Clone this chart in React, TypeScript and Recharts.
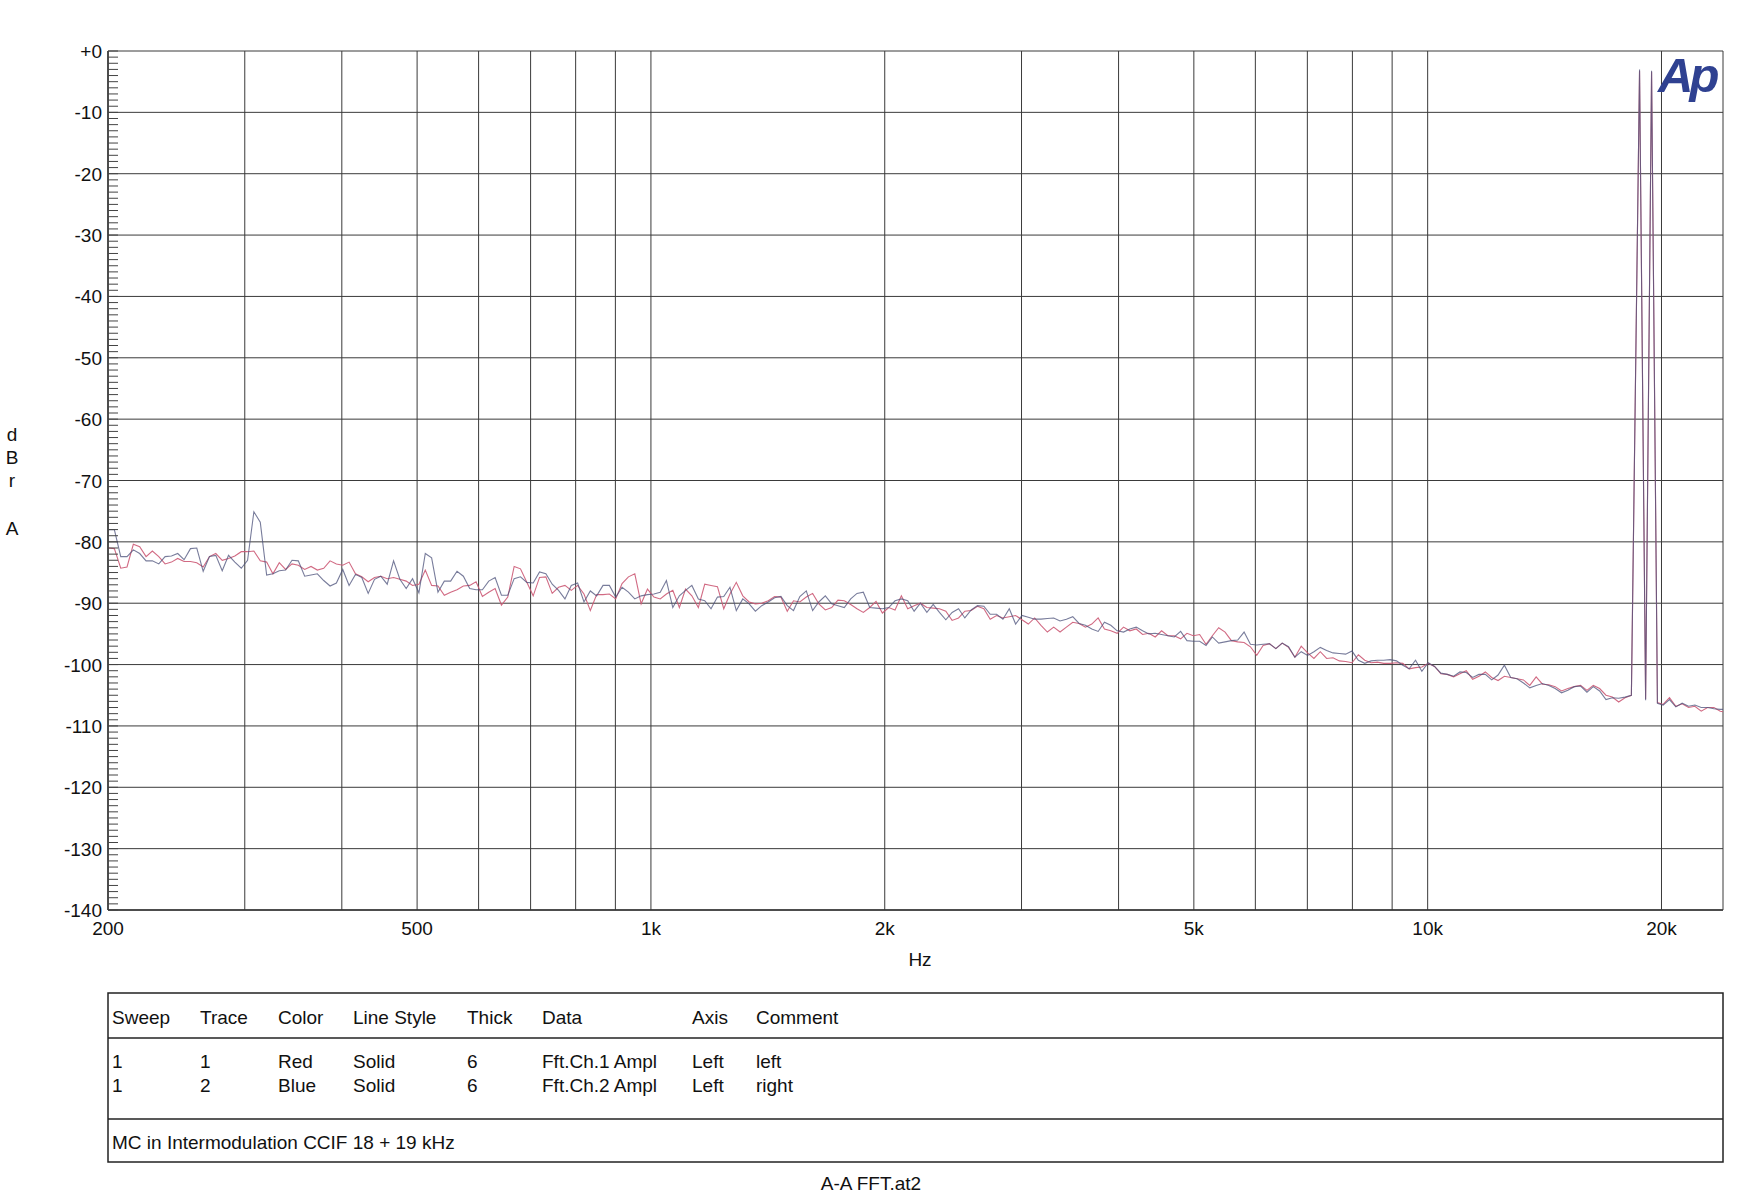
import { LineChart, Line, XAxis, YAxis, CartesianGrid } from "recharts";

const FONT = "'Liberation Sans', Arial, sans-serif";

// FFT bins (Hz)
const FREQ_HZ = [
  200, 203.8, 207.7, 211.6, 215.6, 219.7, 223.9, 228.1, 232.5, 236.9,
  241.4, 245.9, 250.6, 255.4, 260.2, 265.2, 270.2, 275.3, 280.6, 285.9,
  291.3, 296.9, 302.5, 308.2, 314.1, 320.1, 326.1, 332.3, 338.6, 345.1,
  351.6, 358.3, 365.1, 372.0, 379.1, 386.3, 393.6, 401.1, 408.7, 416.5,
  424.4, 432.5, 440.7, 449.0, 457.6, 466.3, 475.1, 484.1, 493.3, 502.7,
  512.3, 522.0, 531.9, 542.0, 552.3, 562.8, 573.5, 584.4, 595.5, 606.8,
  618.3, 630.1, 642.0, 654.2, 666.7, 679.3, 692.2, 705.4, 718.8, 732.4,
  746.3, 760.5, 775.0, 789.7, 804.7, 820.0, 835.6, 851.4, 867.6, 884.1,
  900.9, 918.0, 935.5, 953.3, 971.4, 989.8, 1009, 1028, 1047, 1067,
  1088, 1108, 1129, 1151, 1173, 1195, 1218, 1241, 1264, 1288,
  1313, 1338, 1363, 1389, 1416, 1443, 1470, 1498, 1526, 1555,
  1585, 1615, 1645, 1677, 1709, 1741, 1774, 1808, 1842, 1877,
  1913, 1949, 1986, 2024, 2062, 2101, 2141, 2182, 2223, 2266,
  2309, 2352, 2397, 2442, 2489, 2536, 2584, 2633, 2683, 2734,
  2786, 2839, 2893, 2948, 3004, 3061, 3119, 3178, 3239, 3300,
  3363, 3427, 3492, 3558, 3626, 3695, 3765, 3836, 3909, 3983,
  4059, 4136, 4215, 4295, 4376, 4459, 4544, 4630, 4718, 4808,
  4899, 4992, 5087, 5184, 5282, 5382, 5485, 5589, 5695, 5803,
  5913, 6025, 6140, 6257, 6376, 6497, 6620, 6746, 6874, 7005,
  7138, 7274, 7412, 7553, 7696, 7842, 7991, 8143, 8298, 8456,
  8616, 8780, 8947, 9117, 9290, 9466, 9646, 9829, 10016, 10206,
  10400, 10598, 10799, 11004, 11213, 11426, 11643, 11865, 12090, 12320,
  12554, 12792, 13035, 13283, 13535, 13793, 14055, 14322, 14594, 14871,
  15154, 15442, 15735, 16034, 16339, 16649, 16965, 17288, 17616, 17951,
  18292, 18740, 19080, 19420, 19760, 20097, 20479, 20868, 21264, 21668,
  22080, 22500, 22927, 23363, 23807, 24000,
];

// Fft.Ch.1 Ampl (red, "left"), dBrA
const LEFT_DBRA = [
  -81.0, -81.1, -84.3, -84.1, -80.4, -80.8, -82.4, -81.5, -82.4, -83.6,
  -83.3, -82.7, -83.2, -83.2, -83.4, -84.1, -82.4, -81.9, -83.0, -82.7,
  -82.3, -81.6, -81.6, -81.5, -83.1, -83.3, -85.2, -83.4, -84.5, -83.6,
  -83.8, -84.5, -84.0, -84.6, -84.3, -83.1, -83.6, -83.8, -83.3, -85.2,
  -85.7, -86.5, -85.8, -85.6, -86.0, -85.8, -86.1, -86.4, -87.1, -86.9,
  -84.6, -87.1, -87.2, -88.7, -88.2, -87.8, -87.2, -87.1, -86.5, -88.9,
  -88.2, -87.6, -90.3, -89.0, -84.0, -84.4, -86.6, -88.8, -85.8, -85.7,
  -88.4, -87.4, -87.1, -87.9, -87.1, -88.5, -91.2, -88.6, -88.6, -88.5,
  -89.3, -86.8, -85.7, -85.2, -90.1, -87.7, -89.0, -89.3, -88.5, -87.9,
  -90.7, -87.7, -88.8, -90.7, -86.9, -87.1, -87.3, -90.9, -88.5, -86.6,
  -88.8, -89.8, -90.1, -90.0, -89.6, -88.9, -89.0, -91.3, -89.6, -89.8,
  -89.0, -88.4, -90.1, -91.1, -90.7, -89.5, -89.6, -90.2, -90.9, -91.5,
  -90.7, -89.7, -91.6, -90.7, -91.1, -88.8, -90.9, -90.4, -90.0, -90.7,
  -90.8, -90.9, -91.3, -92.8, -92.4, -91.3, -91.2, -90.5, -90.9, -92.6,
  -92.0, -92.4, -92.2, -92.0, -92.7, -93.4, -92.4, -93.6, -94.7, -93.9,
  -94.7, -93.9, -93.1, -93.3, -93.9, -93.4, -92.4, -94.2, -94.5, -94.9,
  -93.9, -94.5, -94.2, -95.1, -94.9, -95.5, -94.5, -95.3, -95.3, -95.8,
  -94.9, -95.3, -95.1, -96.7, -95.3, -94.0, -94.7, -96.1, -96.3, -96.4,
  -97.1, -98.5, -96.9, -96.6, -97.4, -96.5, -97.2, -98.8, -97.0, -98.1,
  -99.0, -97.9, -99.0, -98.9, -99.4, -99.5, -99.7, -98.4, -99.3, -99.7,
  -99.6, -99.8, -99.8, -99.7, -99.8, -100.7, -100.5, -100.4, -99.8, -100.3,
  -101.5, -101.6, -102.0, -101.5, -101.0, -102.4, -101.9, -101.2, -102.1, -102.6,
  -101.9, -102.1, -102.3, -102.5, -103.4, -102.0, -103.2, -103.3, -103.6, -104.3,
  -103.9, -103.6, -103.4, -104.2, -103.4, -103.9, -105.0, -105.3, -106.1, -105.4,
  -105.0, -3.2, -105.6, -3.4, -106.2, -106.5, -105.4, -106.8, -106.4, -107.0,
  -106.8, -107.6, -107.0, -107.0, -107.6, -107.7,
];

// Fft.Ch.2 Ampl (blue, "right"), dBrA
const RIGHT_DBRA = [
  -78.0, -78.0, -82.4, -82.4, -81.3, -81.9, -83.1, -83.1, -83.6, -82.4,
  -82.3, -81.9, -82.9, -81.1, -81.0, -84.8, -82.4, -82.2, -84.7, -82.2,
  -83.3, -84.3, -83.0, -75.1, -76.8, -85.4, -85.2, -84.7, -84.6, -83.0,
  -83.1, -85.6, -85.4, -85.2, -86.3, -87.2, -86.7, -84.5, -87.1, -85.3,
  -85.8, -88.4, -86.1, -85.6, -86.9, -83.1, -86.1, -87.6, -86.0, -88.3,
  -81.9, -82.6, -88.2, -86.4, -86.4, -84.8, -85.6, -87.6, -87.8, -87.8,
  -86.4, -85.8, -88.7, -88.7, -86.0, -85.7, -86.6, -86.7, -84.9, -85.2,
  -86.9, -87.9, -89.3, -87.1, -86.7, -89.8, -88.0, -88.8, -87.1, -87.1,
  -89.0, -87.4, -88.2, -89.3, -88.8, -88.6, -88.5, -88.2, -86.3, -90.7,
  -88.8, -87.9, -87.1, -89.3, -89.6, -90.9, -89.0, -88.9, -87.4, -91.2,
  -89.3, -90.1, -91.3, -90.4, -89.8, -89.1, -88.9, -90.4, -91.2, -88.9,
  -88.0, -91.2, -89.8, -88.8, -90.1, -90.4, -90.7, -89.3, -88.4, -88.2,
  -90.7, -90.8, -90.9, -90.7, -89.6, -89.3, -89.6, -91.3, -90.0, -91.5,
  -90.2, -91.5, -92.7, -91.5, -90.9, -92.4, -91.1, -90.4, -90.5, -91.8,
  -91.8, -92.6, -90.9, -93.4, -92.0, -92.3, -92.6, -92.6, -92.5, -92.4,
  -92.9, -92.6, -92.2, -93.3, -93.6, -94.2, -94.6, -93.1, -93.6, -94.5,
  -94.7, -94.2, -93.9, -94.5, -95.0, -94.9, -95.1, -95.3, -95.5, -94.6,
  -96.1, -96.2, -96.2, -96.9, -95.5, -96.5, -96.3, -96.1, -96.0, -94.7,
  -96.7, -96.8, -96.7, -96.6, -97.4, -96.5, -97.1, -98.8, -97.9, -98.5,
  -97.9, -97.2, -97.7, -98.1, -98.2, -98.3, -97.8, -99.3, -99.8, -99.4,
  -99.3, -99.3, -99.2, -99.4, -100.1, -100.7, -99.3, -101.1, -99.7, -100.3,
  -101.4, -101.6, -101.9, -101.2, -101.3, -102.1, -101.6, -101.6, -102.5, -101.7,
  -100.1, -102.1, -102.3, -103.0, -103.8, -103.4, -103.1, -103.4, -103.9, -104.6,
  -104.2, -103.6, -103.5, -104.5, -103.6, -104.3, -105.7, -105.4, -105.5, -105.3,
  -105.0, -3.0, -105.8, -3.2, -106.3, -106.6, -105.7, -106.9, -106.3, -106.8,
  -106.6, -107.0, -107.0, -107.2, -107.3, -107.3,
];

const X_LABEL_TICKS = [200, 500, 1000, 2000, 5000, 10000, 20000];
const X_LABEL_TEXT = ["200", "500", "1k", "2k", "5k", "10k", "20k"];
const X_GRID = [200, 300, 400, 500, 600, 700, 800, 900, 1000, 2000, 3000, 4000, 5000, 6000, 7000, 8000, 9000, 10000, 20000, 24000];
const Y_GRID = [0, -10, -20, -30, -40, -50, -60, -70, -80, -90, -100, -110, -120, -130, -140];
// 1 dB minor ticks on the left edge
const Y_MINOR = Array.from({ length: 141 }, (_, i) => -i);

const TABLE_HEAD = ["Sweep", "Trace", "Color", "Line Style", "Thick", "Data", "Axis", "Comment"];
const TABLE_ROWS = [
  ["1", "1", "Red", "Solid", "6", "Fft.Ch.1 Ampl", "Left", "left"],
  ["1", "2", "Blue", "Solid", "6", "Fft.Ch.2 Ampl", "Left", "right"],
];
const TABLE_COMMENT = "MC in Intermodulation CCIF 18 + 19 kHz";
const COL_X = [112, 200, 278, 353, 467, 542, 692, 756];

const RED = "#cc5a76";
const BLUE = "#4b5079";

const XTick = (props: any) => {
  const { x, y, payload } = props;
  const i = X_LABEL_TICKS.indexOf(payload.value);
  return (
    <text x={x} y={y} dy={25} textAnchor="middle" fontSize={19} fill="#111" fontFamily={FONT}>
      {i >= 0 ? X_LABEL_TEXT[i] : ""}
    </text>
  );
};

const YTick = (props: any) => {
  const { x, y, payload } = props;
  const v = payload.value;
  const edge = x + 6;
  return (
    <g>
      <line x1={edge} x2={edge + 10} y1={y} y2={y} stroke="#444" strokeWidth={1} />
      {v % 10 === 0 && (
        <text x={x} y={y} dy={7} textAnchor="end" fontSize={19} fill="#111" fontFamily={FONT}>
          {v === 0 ? "+0" : v}
        </text>
      )}
    </g>
  );
};

export default function App() {
  const data = FREQ_HZ.map((f, i) => ({ f, left: LEFT_DBRA[i], right: RIGHT_DBRA[i] }));

  return (
    <div style={{ position: "absolute", left: 0, top: 0, width: 1754, height: 1201, background: "#fff", fontFamily: FONT }}>
      <LineChart width={1754} height={1201} data={data} margin={{ top: 51, right: 31, bottom: 261, left: 8 }}>
        <CartesianGrid stroke="#3a3a3a" strokeWidth={1} horizontalValues={Y_GRID} verticalValues={X_GRID} />
        <XAxis
          dataKey="f"
          type="number"
          scale="log"
          domain={[200, 24000]}
          allowDataOverflow
          ticks={X_LABEL_TICKS}
          interval={0}
          height={30}
          tickSize={0}
          tickMargin={0}
          tickLine={false}
          axisLine={{ stroke: "#333", strokeWidth: 1.5 }}
          tick={XTick}
        />
        <YAxis
          type="number"
          domain={[-140, 0]}
          allowDataOverflow
          ticks={Y_MINOR}
          interval={0}
          width={100}
          tickSize={6}
          tickMargin={0}
          tickLine={false}
          axisLine={{ stroke: "#333", strokeWidth: 1.5 }}
          tick={YTick}
        />
        <Line type="linear" dataKey="left" stroke={RED} strokeWidth={1.1} strokeOpacity={0.9} dot={false} isAnimationActive={false} />
        <Line type="linear" dataKey="right" stroke={BLUE} strokeWidth={1.1} strokeOpacity={0.75} dot={false} isAnimationActive={false} />
      </LineChart>

      <svg
        width={1754}
        height={1201}
        style={{ position: "absolute", left: 0, top: 0, pointerEvents: "none" }}
        fontFamily={FONT}
      >
        {/* Ap logo */}
        <text x={1658} y={92} fontSize={49} fontWeight="bold" fontStyle="italic" fill="#2f4191" letterSpacing={-4}>
          Ap
        </text>

        {/* y axis title, stacked */}
        <g fontSize={19} fill="#111" textAnchor="middle">
          <text x={12} y={441}>d</text>
          <text x={12} y={464}>B</text>
          <text x={12} y={487}>r</text>
          <text x={12} y={535}>A</text>
        </g>
        <text x={920} y={966} fontSize={19} fill="#111" textAnchor="middle">Hz</text>

        {/* legend table */}
        <g stroke="#222" strokeWidth={1.5} fill="none">
          <rect x={108} y={993} width={1615} height={169} />
          <line x1={108} x2={1723} y1={1038} y2={1038} />
          <line x1={108} x2={1723} y1={1119} y2={1119} />
        </g>
        <g fontSize={19} fill="#111">
          {TABLE_HEAD.map((h, i) => (
            <text key={h} x={COL_X[i]} y={1024}>{h}</text>
          ))}
          {TABLE_ROWS.map((row, r) =>
            row.map((cell, i) => (
              <text key={`${r}-${i}`} x={COL_X[i]} y={1068 + r * 24}>{cell}</text>
            ))
          )}
          <text x={112} y={1149}>{TABLE_COMMENT}</text>
        </g>
        <text x={871} y={1190} fontSize={19} fill="#111" textAnchor="middle">A-A FFT.at2</text>
      </svg>
    </div>
  );
}
